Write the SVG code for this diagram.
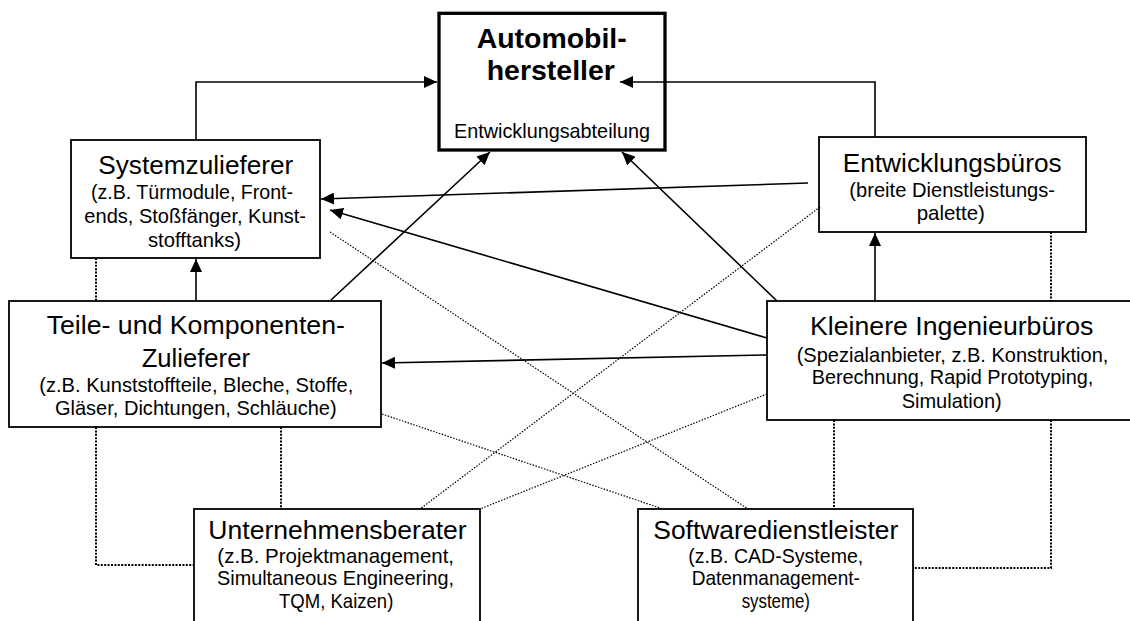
<svg xmlns="http://www.w3.org/2000/svg" width="1130" height="621" viewBox="0 0 1130 621">
<style>
.box{fill:#fff;stroke:#000;stroke-width:1.8}
.main{fill:#fff;stroke:#000;stroke-width:3.3}
text{font-family:"Liberation Sans",Arial,sans-serif;fill:#000;text-anchor:middle}
.t{font-size:26px}
.s{font-size:19.8px}
.b{font-size:27px;font-weight:bold}
.arr{fill:none;stroke:#000;stroke-width:1.6;marker-end:url(#ah)}
.dv{fill:none;stroke:#000;stroke-width:2;stroke-dasharray:2 1.4}
.dd{fill:none;stroke:#000;stroke-width:1.2;stroke-dasharray:1.5 1.5}
</style>
<defs>
<marker id="ah" markerUnits="userSpaceOnUse" markerWidth="13" markerHeight="12" refX="13" refY="6" orient="auto">
<path d="M0,0 L13,6 L0,12 z" fill="#000"/>
</marker>
</defs>
<rect width="1130" height="621" fill="#fff"/>
<g id="automobilhersteller">
<rect class="main" x="439" y="13.3" width="226" height="136.7"/>
<text class="b" x="551.7" y="47.7" textLength="150" lengthAdjust="spacingAndGlyphs">Automobil-</text>
<text class="b" x="550.8" y="80" textLength="128.3" lengthAdjust="spacingAndGlyphs">hersteller</text>
<text class="s" x="552" y="138" textLength="196" lengthAdjust="spacingAndGlyphs">Entwicklungsabteilung</text>
</g>
<g id="systemzulieferer">
<rect class="box" x="71" y="140" width="249" height="118"/>
<text class="t" x="195.8" y="174" textLength="195" lengthAdjust="spacingAndGlyphs">Systemzulieferer</text>
<text class="s" x="192" y="199.3" textLength="202" lengthAdjust="spacingAndGlyphs">(z.B. Türmodule, Front-</text>
<text class="s" x="195.2" y="222.7" textLength="221.7" lengthAdjust="spacingAndGlyphs">ends, Stoßfänger, Kunst-</text>
<text class="s" x="194.5" y="246.7" textLength="93" lengthAdjust="spacingAndGlyphs">stofftanks)</text>
</g>
<g id="entwicklungsbueros">
<rect class="box" x="819" y="137" width="267" height="95"/>
<text class="t" x="952.2" y="171.7" textLength="219" lengthAdjust="spacingAndGlyphs">Entwicklungsbüros</text>
<text class="s" x="952.2" y="196.7" textLength="205.7" lengthAdjust="spacingAndGlyphs">(breite Dienstleistungs-</text>
<text class="s" x="950.8" y="220" textLength="68.3" lengthAdjust="spacingAndGlyphs">palette)</text>
</g>
<g id="teile">
<rect class="box" x="9" y="301" width="372" height="126"/>
<text class="t" x="195.8" y="334.3" textLength="298.3" lengthAdjust="spacingAndGlyphs">Teile- und Komponenten-</text>
<text class="t" x="195.8" y="367.3" textLength="108.3" lengthAdjust="spacingAndGlyphs">Zulieferer</text>
<text class="s" x="196.3" y="391.7" textLength="314" lengthAdjust="spacingAndGlyphs">(z.B. Kunststoffteile, Bleche, Stoffe,</text>
<text class="s" x="195.8" y="415" textLength="281.7" lengthAdjust="spacingAndGlyphs">Gläser, Dichtungen, Schläuche)</text>
</g>
<g id="kleinere">
<rect class="box" x="767" y="301" width="372" height="119"/>
<text class="t" x="951.7" y="335" textLength="283.3" lengthAdjust="spacingAndGlyphs">Kleinere Ingenieurbüros</text>
<text class="s" x="952.5" y="361.7" textLength="311.7" lengthAdjust="spacingAndGlyphs">(Spezialanbieter, z.B. Konstruktion,</text>
<text class="s" x="952.5" y="384" textLength="281.7" lengthAdjust="spacingAndGlyphs">Berechnung, Rapid Prototyping,</text>
<text class="s" x="951.7" y="408.3" textLength="100" lengthAdjust="spacingAndGlyphs">Simulation)</text>
</g>
<g id="unternehmensberater">
<rect class="box" x="194" y="509" width="286" height="120"/>
<text class="t" x="337.5" y="539.3" textLength="258.3" lengthAdjust="spacingAndGlyphs">Unternehmensberater</text>
<text class="s" x="335.7" y="563.3" textLength="236.7" lengthAdjust="spacingAndGlyphs">(z.B. Projektmanagement,</text>
<text class="s" x="335.5" y="585" textLength="237" lengthAdjust="spacingAndGlyphs">Simultaneous Engineering,</text>
<text class="s" x="336.2" y="608.3" textLength="114.3" lengthAdjust="spacingAndGlyphs">TQM, Kaizen)</text>
</g>
<g id="softwaredienstleister">
<rect class="box" x="638" y="509" width="275" height="120"/>
<text class="t" x="775.8" y="539" textLength="245" lengthAdjust="spacingAndGlyphs">Softwaredienstleister</text>
<text class="s" x="775.8" y="563" textLength="175" lengthAdjust="spacingAndGlyphs">(z.B. CAD-Systeme,</text>
<text class="s" x="775.8" y="585" textLength="168.3" lengthAdjust="spacingAndGlyphs">Datenmanagement-</text>
<text class="s" x="775.8" y="608" textLength="68.3" lengthAdjust="spacingAndGlyphs">systeme)</text>
</g>
<g id="connectors">
<path class="arr" d="M196,140 V82 H437"/>
<path class="arr" d="M875,137 V82 H620"/>
<path class="arr" d="M808,183 L321,199"/>
<path class="arr" d="M767,338 L330,210"/>
<path class="arr" d="M767,355 L382,363"/>
<path class="arr" d="M875,301 L875,233"/>
<path class="arr" d="M196,301 L196,259"/>
<path class="arr" d="M331,300 L490,152"/>
<path class="arr" d="M777,301 L622,152"/>
<path class="dv" d="M96,258 V301"/>
<path class="dv" d="M1051,232 V301"/>
<path class="dv" d="M96,427 V565 H194"/>
<path class="dv" d="M281,427 V509"/>
<path class="dv" d="M834,420 V509"/>
<path class="dv" d="M1051,420 V568 H913"/>
<path class="dd" d="M330,232 L748,509"/>
<path class="dd" d="M820,207 L420,509"/>
<path class="dd" d="M382,414 L663,509"/>
<path class="dd" d="M767,394 L480,509"/>
</g>
</svg>
